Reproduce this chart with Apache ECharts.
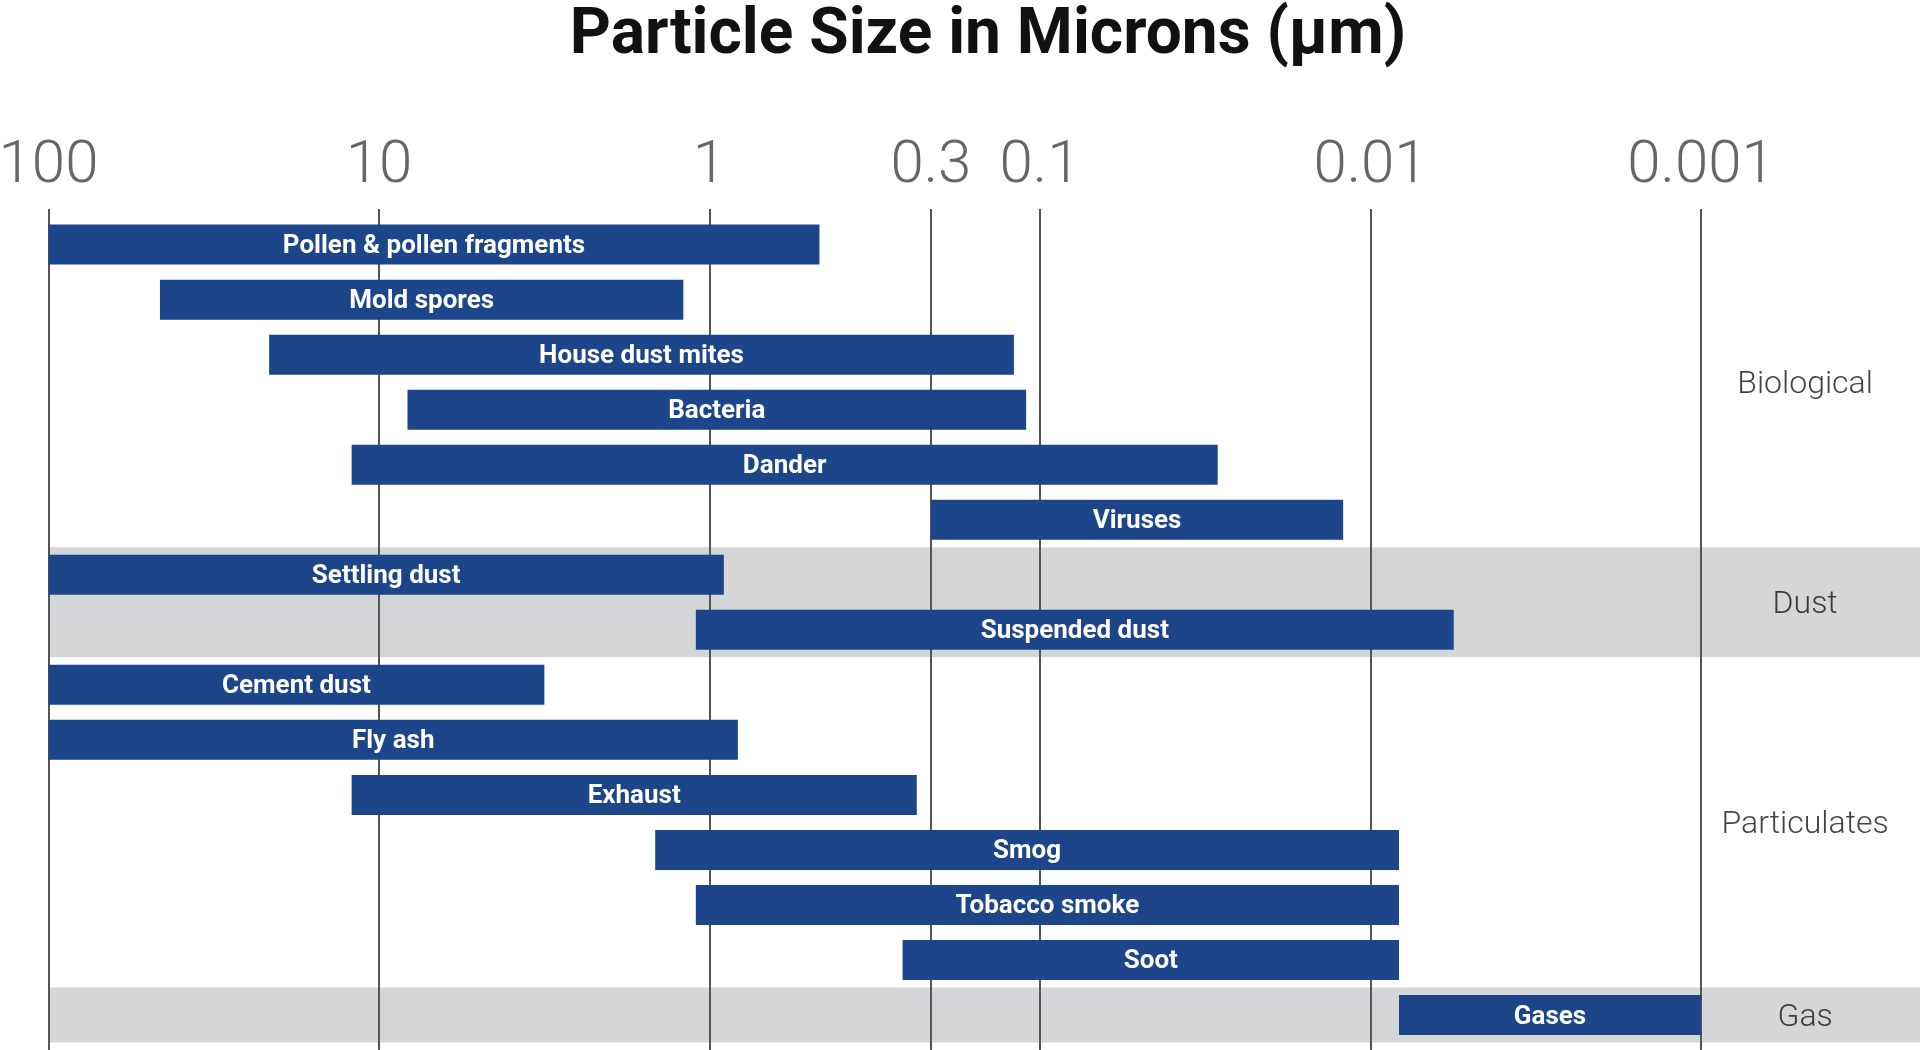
<!DOCTYPE html>
<html>
<head>
<meta charset="utf-8">
<title>Particle Size in Microns</title>
<script src="https://cdn.jsdelivr.net/npm/echarts@6/dist/echarts.min.js"></script>
<style>
html,body{margin:0;padding:0;background:#fff;}
#chart{width:1920px;height:1050px;}
</style>
</head>
<body>
<div id="chart"></div>
<script>
// particle types, top to bottom
var names = ['Pollen & pollen fragments', 'Mold spores', 'House dust mites', 'Bacteria', 'Dander', 'Viruses',
    'Settling dust', 'Suspended dust',
    'Cement dust', 'Fly ash', 'Exhaust', 'Smog', 'Tobacco smoke', 'Soot',
    'Gases'];
// size range in microns (largest -> smallest)
var sizeFrom = [100, 46, 21.5, 8.2, 12.1, 0.3,
    100, 1.1,
    100, 100, 12.1, 1.46, 1.1, 0.35,
    0.0082];
var sizeTo = [0.55, 1.2, 0.13, 0.115, 0.029, 0.0121,
    0.925, 0.0056,
    3.16, 0.857, 0.324, 0.0082, 0.0082, 0.0082,
    0.001];
// groups: name, first row, last row
var groupNames = ['Biological', 'Dust', 'Particulates', 'Gas'];
var groupFirst = [0, 6, 8, 14];
var groupLast = [5, 7, 13, 14];
var shadedGroups = [1, 3];
// axis ticks
var tickValues = [100, 10, 1, 0.3, 0.1, 0.01, 0.001];
var tickLabels = ['100', '10', '1', '0.3', '0.1', '0.01', '0.001'];

// the chart puts 0.3 two thirds of the way from 1 to 0.1
var tickSlots = [0, 1, 2, 2.67, 3, 4, 5];

// microns -> slot on the axis, log interpolation between ticks
function toSlot(v) {
    var lv = Math.log10(v);
    for (var i = 0; i < tickValues.length - 1; i++) {
        var a = Math.log10(tickValues[i]), b = Math.log10(tickValues[i + 1]);
        if (lv >= b || i === tickValues.length - 2) {
            return tickSlots[i] + (tickSlots[i + 1] - tickSlots[i]) * (a - lv) / (a - b);
        }
    }
}

var barData = names.map(function (n, i) {
    return [i, toSlot(sizeFrom[i]), toSlot(sizeTo[i])];
});

var groupData = groupNames.map(function (g, i) {
    return {name: g, value: [5.315, (groupFirst[i] + groupLast[i]) / 2]};
});

var chart = echarts.init(document.getElementById('chart'));

function renderBar(params, api) {
    var row = api.value(0);
    var p0 = api.coord([api.value(1), row]);
    var p1 = api.coord([api.value(2), row]);
    var h = api.size([0, 1])[1] * 0.727;
    return {
        type: 'rect',
        shape: {x: p0[0], y: p0[1] - h / 2, width: p1[0] - p0[0], height: h},
        style: {fill: '#1d4589'},
        textContent: {
            style: {
                text: names[row],
                fill: '#fff',
                fontFamily: 'Roboto',
                fontWeight: 'bold',
                fontSize: 26
            }
        },
        textConfig: {position: 'inside', offset: [0, 2]}
    };
}

var option = {
    backgroundColor: '#fff',
    animation: false,
    title: {
        text: 'Particle Size in Microns (μm)',
        left: 983,
        textAlign: 'center',
        top: 0,
        textStyle: {
            fontFamily: 'Roboto',
            fontWeight: 'bold',
            fontSize: 64,
            color: '#111'
        }
    },
    grid: {
        left: 48.5,
        right: 0,
        top: 209,
        bottom: 0,
        outerBoundsMode: 'none'
    },
    xAxis: {
        type: 'value',
        position: 'top',
        min: 0,
        max: 5.6626,
        axisLine: {show: false},
        axisTick: {show: false},
        splitLine: {show: false},
        axisLabel: {
            customValues: tickSlots,
            margin: 12,
            fontFamily: 'Roboto',
            fontWeight: 300,
            fontSize: 60,
            color: '#666',
            formatter: function (v) {
                var best = 0;
                for (var i = 1; i < tickSlots.length; i++) {
                    if (Math.abs(tickSlots[i] - v) < Math.abs(tickSlots[best] - v)) best = i;
                }
                return tickLabels[best];
            }
        }
    },
    yAxis: {
        type: 'value',
        inverse: true,
        min: -0.647,
        max: 14.636,
        show: false
    },
    series: [
        {
            // grey bands behind the dust and gas rows
            type: 'line',
            data: [],
            z: 1,
            silent: true,
            markArea: {
                silent: true,
                itemStyle: {color: '#d5d6d8'},
                data: shadedGroups.map(function (g) {
                    return [{yAxis: groupFirst[g] - 0.5}, {yAxis: groupLast[g] + 0.5}];
                })
            }
        },
        {
            // vertical size lines
            type: 'line',
            data: [],
            z: 2,
            silent: true,
            markLine: {
                silent: true,
                symbol: ['none', 'none'],
                label: {show: false},
                lineStyle: {color: '#555', width: 2, type: 'solid'},
                data: tickSlots.map(function (s) { return {xAxis: s}; })
            }
        },
        {
            name: 'Particles',
            type: 'custom',
            z: 5,
            renderItem: renderBar,
            data: barData
        },
        {
            name: 'Groups',
            type: 'scatter',
            z: 5,
            symbolSize: 0,
            silent: true,
            data: groupData,
            label: {
                show: true,
                position: 'inside',
                offset: [0, 3],
                formatter: '{b}',
                fontFamily: 'Roboto',
                fontWeight: 300,
                fontSize: 32,
                color: '#111'
            }
        }
    ]
};
chart.setOption(option);
</script>
</body>
</html>
